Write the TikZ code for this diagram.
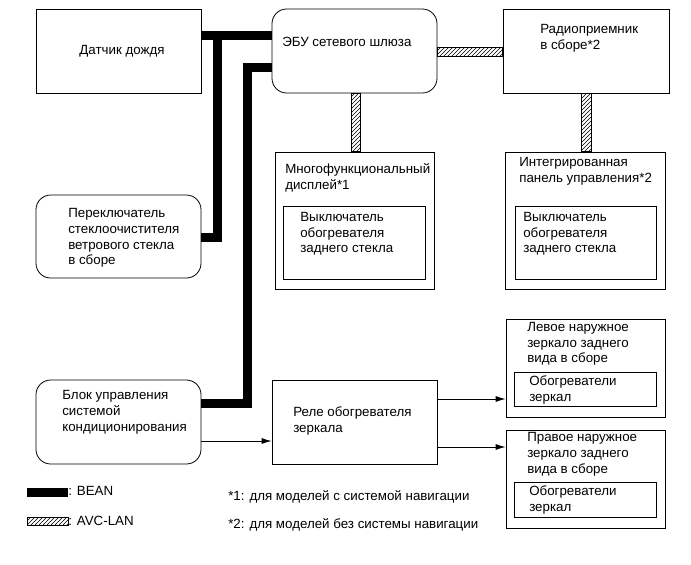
\documentclass[tikz,border=0pt]{standalone}
\usepackage{fontspec}
\setmainfont{Liberation Sans}
\usetikzlibrary{fit,patterns,arrows.meta}
\begin{document}
\begin{tikzpicture}[x=0.75pt,y=-0.75pt,
  every node/.style={font=\fontsize{10}{11.8}\selectfont},
  box/.style={draw,line width=0.6pt,inner sep=0pt},
  rbox/.style={box,rounded corners=11pt},
  txt/.style={inner sep=0pt,align=left,anchor=west},
  bean/.style={line width=6.75pt,black},
  avc/.style={draw,line width=0.5pt,pattern=north east lines},
  sig/.style={line width=0.6pt,-{Latex[length=7.5pt,width=4.5pt]}}]
\path[use as bounding box,fill=white] (0,0) rectangle (691,564);

% boxes
\node[box,fit={(36,9) (201,93)}] (rain) {};
\node[rbox,fit={(272,9) (437,93)}] (ecu) {};
\node[box,fit={(503,9) (669,93)}] (radio) {};
\node[rbox,fit={(36,195) (201,278)}] (wiper) {};
\node[box,fit={(275,152) (434,289)}] (mfd) {};
\node[box,fit={(283,206) (425,279)}] (mfdsw) {};
\node[box,fit={(505,152) (665,289)}] (integ) {};
\node[box,fit={(515,206) (656,279)}] (integsw) {};
\node[rbox,fit={(36,380) (201,464)}] (ac) {};
\node[box,fit={(272,380) (437,464)}] (relay) {};
\node[box,fit={(506,319) (665,417)}] (lmir) {};
\node[box,fit={(514,372) (656,406)}] (lmirh) {};
\node[box,fit={(506,430) (665,528)}] (rmir) {};
\node[box,fit={(514,482) (656,517)}] (rmirh) {};

% texts
\node[inner sep=0pt] (rainT) at (122,51) {Датчик дождя};
\node[txt] (ecuT) at (282,42) {ЭБУ сетевого шлюза};
\node[txt] (radioT) at (540,38.5) {Радиоприемник\\в сборе*2};
\node[txt] (wiperT) at (68,238) {Переключатель\\стеклоочистителя\\ветрового стекла\\в сборе};
\node[txt] (mfdT) at (285,178) {Многофункциональный\\дисплей*1};
\node[txt] (mfdswT) at (300,234) {Выключатель\\обогревателя\\заднего стекла};
\node[txt] (integT) at (519,171.5) {Интегрированная\\панель управления*2};
\node[txt] (integswT) at (523,234) {Выключатель\\обогревателя\\заднего стекла};
\node[txt] (acT) at (62,412.5) {Блок управления\\системой\\кондиционирования};
\node[txt] (relayT) at (293,421) {Реле обогревателя\\зеркала};
\node[txt] (lmirT) at (527,344) {Левое наружное\\зеркало заднего\\вида в сборе};
\node[txt] (lmirhT) at (529,390) {Обогреватели\\зеркал};
\node[txt] (rmirT) at (527,454.5) {Правое наружное\\зеркало заднего\\вида в сборе};
\node[txt] (rmirhT) at (529,500) {Обогреватели\\зеркал};

% BEAN
\coordinate (b1) at (217.5,35);
\coordinate (b2) at (217.5,237);
\coordinate (b3) at (247.5,67.5);
\coordinate (b4) at (247.5,403.5);
\draw[bean] (rain.east |- b1) -- (ecu.west |- b1);
\draw[bean] (b1) -- (b2) -- (wiper.east |- b2);
\draw[bean] (ecu.west |- b3) -- (b3) -- (b4) -- (ac.east |- b4);

% AVC-LAN
\path[avc] (ecu.east |- 0,47) rectangle (radio.west |- 0,56);
\path[avc] (ecu.south -| 351,0) rectangle (mfd.north -| 360,0);
\path[avc] (radio.south -| 581,0) rectangle (integ.north -| 591,0);

% signals
\draw[sig] (ac.east |- 0,441) -- (relay.west |- 0,441);
\draw[sig] (relay.east |- 0,399) -- (lmir.west |- 0,399);
\draw[sig] (relay.east |- 0,447) -- (rmir.west |- 0,447);

% legend
\fill[black] (27,488) rectangle (68,497);
\node[txt] (beanT) at (68,491) {: BEAN};
\path[avc] (27,517) rectangle (68,525);
\node[txt] (avcT) at (68,521) {: AVC-LAN};
\node[txt] (note1) at (228,497) {*1: для моделей с системой навигации};
\node[txt] (note2) at (228,525) {*2: для моделей без системы навигации};
\end{tikzpicture}
\end{document}
